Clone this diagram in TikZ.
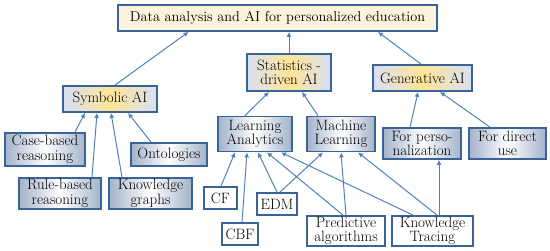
\documentclass[tikz,border=0pt]{standalone}
\usetikzlibrary{arrows.meta,calc}
\definecolor{bord}{HTML}{3A6397}
\definecolor{edge}{HTML}{4F81BD}
\definecolor{cream}{HTML}{FDF3DC}
\definecolor{lav}{HTML}{D9E0F4}
\definecolor{yel}{HTML}{FFE596}
\definecolor{gblue}{HTML}{A3B3CA}
\begin{document}
\begin{tikzpicture}[x=1pt,y=-1pt,
  box/.style={draw=bord,line width=1.8pt,inner sep=0pt,align=center,
    font=\fontsize{15}{14.5}\selectfont},
  topbox/.style={box,fill=cream,font=\fontsize{14.3}{14.5}\selectfont},
  midbox/.style={box,left color=lav,right color=lav,middle color=yel},
  leafbox/.style={box,left color=gblue,right color=gblue,middle color=white},
  plainbox/.style={box,fill=white},
  arr/.style={draw=edge,line width=1pt,-{Latex[length=5pt,width=5pt]}}]
\useasboundingbox (0,0) rectangle (550,251);
\node[topbox,minimum width=319pt,minimum height=26pt] (top) at (277.5,18) {Data analysis and AI for personalized education};
\node[midbox,minimum width=84pt,minimum height=37pt] (stat) at (289,72.5) {Statistics -\\driven AI};
\node[midbox,minimum width=99pt,minimum height=26pt] (gen) at (422.5,78) {Generative AI};
\node[midbox,minimum width=94pt,minimum height=26pt] (sym) at (110,99) {Symbolic AI};
\node[leafbox,minimum width=74pt,minimum height=35pt] (la) at (255,134) {Learning\\Analytics};
\node[leafbox,minimum width=68pt,minimum height=35pt] (ml) at (341,134) {Machine\\Learning};
\node[leafbox,minimum width=78pt,minimum height=31pt] (fp) at (422,143.5) {For perso-\\nalization};
\node[leafbox,minimum width=77pt,minimum height=31pt] (fd) at (507.5,143.5) {For direct\\use};
\node[leafbox,minimum width=80pt,minimum height=33pt] (cb) at (45,149.5) {Case-based\\reasoning};
\node[leafbox,minimum width=76pt,minimum height=23pt] (ont) at (169,154.5) {Ontologies};
\node[leafbox,minimum width=82pt,minimum height=31pt] (rb) at (60,193.5) {Rule-based\\reasoning};
\node[leafbox,minimum width=83pt,minimum height=31pt] (kg) at (150.5,193.5) {Knowledge\\graphs};
\node[plainbox,minimum width=33pt,minimum height=22pt] (cf) at (220.5,198) {CF};
\node[plainbox,minimum width=36pt,minimum height=22pt] (cbf) at (240,234) {CBF};
\node[plainbox,minimum width=40pt,minimum height=22pt] (edm) at (277,204) {EDM};
\node[plainbox,minimum width=78pt,minimum height=30pt] (pa) at (346,231) {Predictive\\algorithms};
\node[plainbox,minimum width=81pt,minimum height=30pt] (kt) at (432.5,231) {Knowledge\\Tracing};
% edges
\draw[arr] ([xshift=5pt]sym.north) -- ([xshift=-89pt]top.south);
\draw[arr] (stat.north) -- ([xshift=11.5pt]top.south);
\draw[arr] ([xshift=-1.5pt]gen.north) -- ([xshift=100.5pt]top.south);
\draw[arr] ([xshift=30pt]cb.north) -- ([xshift=-25pt]sym.south);
\draw[arr] ([xshift=32pt]rb.north) -- ([xshift=-13pt]sym.south);
\draw[arr] ([xshift=-28.5pt]kg.north) -- ([xshift=1pt]sym.south);
\draw[arr] ([xshift=-18pt]ont.north) -- ([xshift=18pt]sym.south);
\draw[arr] ([xshift=-10pt]la.north) -- ([xshift=-20pt]stat.south);
\draw[arr] ([xshift=-23pt]ml.north) -- ([xshift=13pt]stat.south);
\draw[arr] ([xshift=-12pt]fp.north) -- ([xshift=-4.5pt]gen.south);
\draw[arr] ([xshift=-17.5pt]fd.north) -- ([xshift=17.5pt]gen.south);
\draw[arr] ([xshift=0.5pt]cf.north) -- ([xshift=-20pt]la.south);
\draw[arr] ([xshift=2pt]cbf.north) -- ([xshift=-8pt]la.south);
\draw[arr] (edm.north) -- ([xshift=3pt]la.south);
\draw[arr] ([xshift=3pt]edm.north) -- ([xshift=-18pt]ml.south);
\draw[arr] ([xshift=-3pt]pa.north) -- ([xshift=12pt]la.south);
\draw[arr] (pa.north) -- (ml.south);
\draw[arr] ([xshift=-19.5pt]kt.north) -- ([xshift=26pt]la.south);
\draw[arr] ([xshift=4.5pt]kt.north) -- ([xshift=17pt]ml.south);
\draw[arr] ([xshift=6.5pt]kt.north) -- ([xshift=17pt]fp.south);
\end{tikzpicture}
\end{document}
